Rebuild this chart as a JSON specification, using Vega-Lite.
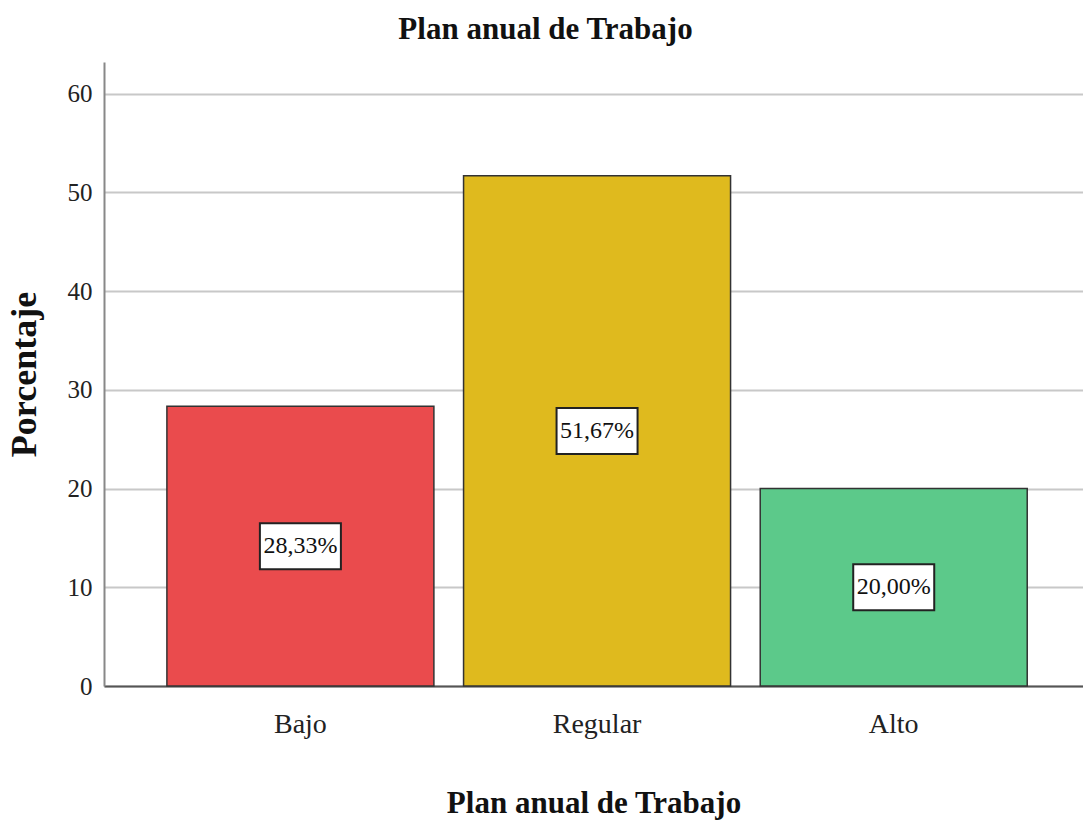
{
  "$schema": "https://vega.github.io/schema/vega-lite/v6.json",
  "width": 979,
  "height": 624,
  "autosize": "none",
  "padding": {"left": 104, "top": 62, "right": 0, "bottom": 144},
  "background": "white",
  "title": {
    "text": "Plan anual de Trabajo",
    "font": "Liberation Serif",
    "fontSize": 31,
    "fontWeight": "bold",
    "color": "#111111",
    "anchor": "middle",
    "dx": -48,
    "offset": 16
  },
  "data": {
    "values": [
      {"category": "Bajo", "value": 28.33, "label": "28,33%"},
      {"category": "Regular", "value": 51.67, "label": "51,67%"},
      {"category": "Alto", "value": 20.0, "label": "20,00%"}
    ]
  },
  "encoding": {
    "x": {
      "field": "category",
      "type": "nominal",
      "sort": ["Bajo", "Regular", "Alto"],
      "scale": {"paddingInner": 0.1, "paddingOuter": 0.2, "align": 0.53},
      "axis": {
        "title": "Plan anual de Trabajo",
        "labelAngle": 0,
        "labelFont": "Liberation Serif",
        "labelFontSize": 28,
        "labelColor": "#222222",
        "labelPadding": 24,
        "ticks": false,
        "domainColor": "#555555",
        "domainWidth": 2,
        "titleFont": "Liberation Serif",
        "titleFontSize": 31,
        "titleFontWeight": "bold",
        "titleColor": "#111111",
        "titlePadding": 50
      }
    }
  },
  "layer": [
    {
      "mark": {"type": "bar", "stroke": "#333333", "strokeWidth": 1.5},
      "encoding": {
        "y": {
          "field": "value",
          "type": "quantitative",
          "scale": {"domain": [0, 63.2], "nice": false},
          "axis": {
            "title": "Porcentaje",
            "values": [0, 10, 20, 30, 40, 50, 60],
            "grid": true,
            "gridColor": "#c8c8c8",
            "gridWidth": 2,
            "ticks": false,
            "domainColor": "#888888",
            "domainWidth": 2,
            "labelFont": "Liberation Serif",
            "labelFontSize": 25,
            "labelColor": "#222222",
            "labelPadding": 12,
            "titleFont": "Liberation Serif",
            "titleFontSize": 36,
            "titleFontWeight": "bold",
            "titleColor": "#111111",
            "titlePadding": 24
          }
        },
        "color": {
          "field": "category",
          "type": "nominal",
          "scale": {
            "domain": ["Bajo", "Regular", "Alto"],
            "range": ["#ea4b4d", "#dfba1e", "#5cc98a"]
          },
          "legend": null
        }
      }
    },
    {
      "encoding": {
        "y": {
          "field": "value",
          "type": "quantitative",
          "scale": {"domain": [0, 126.4], "nice": false},
          "axis": null
        }
      },
      "layer": [
        {
          "mark": {
            "type": "point",
            "shape": "M-1,-0.568L1,-0.568L1,0.568L-1,0.568Z",
            "size": 6561,
            "filled": true,
            "fill": "white",
            "stroke": "#222222",
            "strokeWidth": 2,
            "opacity": 1
          }
        },
        {
          "mark": {
            "type": "text",
            "font": "Liberation Serif",
            "fontSize": 24,
            "color": "#111111",
            "baseline": "middle",
            "align": "center"
          },
          "encoding": {"text": {"field": "label"}}
        }
      ]
    }
  ],
  "resolve": {"scale": {"y": "independent"}},
  "config": {"view": {"stroke": null}}
}
